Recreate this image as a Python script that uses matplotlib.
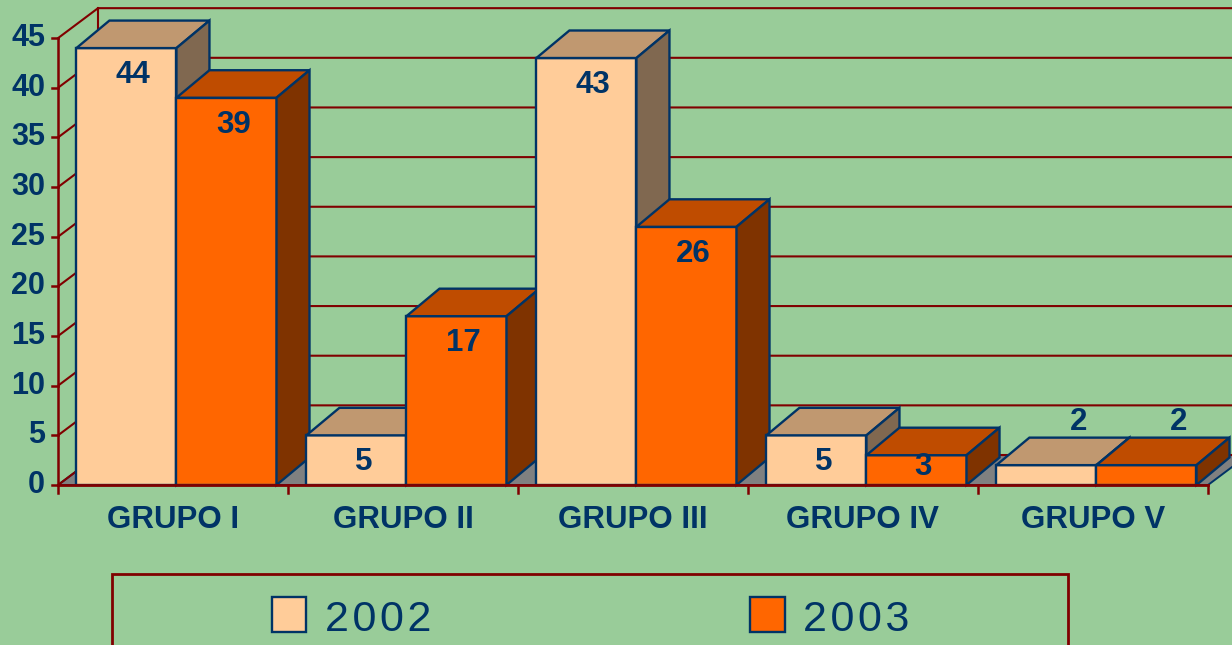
import matplotlib

matplotlib.use("Agg")
import matplotlib.pyplot as plt
from matplotlib.patches import Polygon, Rectangle

plt.rcParams["font.family"] = ["Liberation Sans", "DejaVu Sans"]

# data
groups = ["GRUPO I", "GRUPO II", "GRUPO III", "GRUPO IV", "GRUPO V"]
series = ["2002", "2003"]
vals_2002 = [44, 5, 43, 5, 2]
vals_2003 = [39, 17, 26, 3, 2]
y_ticks = [0, 5, 10, 15, 20, 25, 30, 35, 40, 45]

# styles
BG = "#99CC99"
GRID = "#800000"
NAVY = "#003366"
FLOOR = "#808080"
colors = {
    "2002": ("#FFCC99", "#C09870", "#806850"),  # front, top, side
    "2003": ("#FF6600", "#BF4C00", "#7F3300"),
}

# oblique projection (in data units)
BAR_DX, BAR_DY = 0.1435, 2.77
WALL_DX, WALL_DY = 0.174, 3.02
BAR_W = 0.435
BAR_OFF = 0.08

fig = plt.figure(figsize=(12.32, 6.45), dpi=100, facecolor=BG)
ax = fig.add_axes([0, 0, 1, 1])
ax.set_facecolor(BG)
ax.set_xlim(-58 / 230, (1232 - 58) / 230)
ax.set_ylim((485 - 645) / 9.93, 485 / 9.93)
ax.axis("off")

n = len(groups)
top = y_ticks[-1]
x_right = ax.get_xlim()[1] + 0.2

# floor
ax.add_patch(Polygon([(0, 0), (n, 0), (n + WALL_DX, WALL_DY), (WALL_DX, WALL_DY)],
                     closed=True, facecolor=FLOOR, edgecolor=NAVY, lw=1.4, zorder=1))

# walls: gridlines on side wall and back wall
for v in y_ticks:
    ax.plot([0, WALL_DX, x_right], [v, v + WALL_DY, v + WALL_DY], color=GRID, lw=1.5, zorder=2,
            solid_capstyle="butt")
ax.plot([WALL_DX, WALL_DX], [WALL_DY, top + WALL_DY], color=GRID, lw=1.5, zorder=2)
ax.plot([0, 0], [0, top], color=GRID, lw=1.8, zorder=2)

# y ticks and labels
for v in y_ticks:
    ax.plot([-0.026, 0], [v, v], color=GRID, lw=1.8, zorder=2)
    ax.text(-0.056, v, str(v), ha="right", va="center", fontsize=22, fontweight="bold", color=NAVY)

# bars, drawn left to right so later ones cover earlier side faces
z = 3
for i in range(n):
    for j, (name, vals) in enumerate(zip(series, [vals_2002, vals_2003])):
        v = vals[i]
        x0 = i + BAR_OFF + j * BAR_W
        x1 = x0 + BAR_W
        front, topc, side = colors[name]
        ax.bar(x0, v, width=BAR_W, bottom=0, align="edge", color=front, edgecolor=NAVY,
               linewidth=1.7, zorder=z)
        ax.add_patch(Polygon([(x0, v), (x1, v), (x1 + BAR_DX, v + BAR_DY), (x0 + BAR_DX, v + BAR_DY)],
                             closed=True, facecolor=topc, edgecolor=NAVY, lw=1.7, zorder=z))
        ax.add_patch(Polygon([(x1, 0), (x1 + BAR_DX, BAR_DY), (x1 + BAR_DX, v + BAR_DY), (x1, v)],
                             closed=True, facecolor=side, edgecolor=NAVY, lw=1.7, zorder=z))
        z += 1
        cx = x0 + BAR_W / 2
        if v > 2:
            lx, ly = cx + 0.03, max(v - 2.7, 1.8)
        else:
            lx, ly = cx + 0.14, v + 4.3
        ax.text(lx, ly, str(v), ha="center", va="center", fontsize=22.5, fontweight="bold",
                color=NAVY, zorder=50)

# front x axis
ax.plot([0, n], [0, 0], color=GRID, lw=2.0, zorder=40)
for i in range(n + 1):
    ax.plot([i, i], [0, -0.8], color=GRID, lw=1.8, zorder=40)
for i, g in enumerate(groups):
    ax.text(i + 0.5, -3.5, g, ha="center", va="center", fontsize=22.5, fontweight="bold", color=NAVY)

# legend
ax.add_patch(Rectangle((0.235, -17.5), 4.391 - 0.235, 17.5 - 8.96, facecolor="none",
                       edgecolor=GRID, lw=2.0, zorder=60, clip_on=False))
leg_x = [0.930, 3.009]
for name, lx in zip(series, leg_x):
    ax.add_patch(Rectangle((lx, -14.8), 0.150, 3.52, facecolor=colors[name][0],
                           edgecolor=NAVY, lw=1.7, zorder=61))
    ax.text(lx + 0.232, -13.55, "\u200a".join(name), ha="left", va="center", fontsize=31,
            color=NAVY, zorder=61)

fig.savefig("out.png", dpi=100, facecolor=BG)
